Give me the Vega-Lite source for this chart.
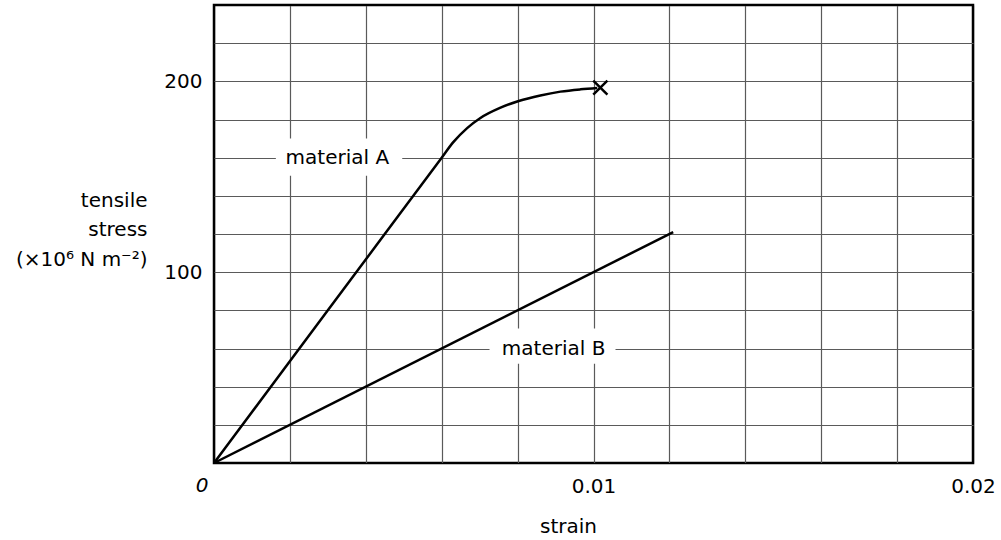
{
  "$schema": "https://vega.github.io/schema/vega-lite/v6.json",
  "width": 759,
  "height": 458,
  "autosize": "none",
  "padding": {"left": 214, "top": 5, "right": 28, "bottom": 77},
  "background": "white",
  "config": {
    "view": {"stroke": "black", "strokeWidth": 2.5},
    "font": "DejaVu Sans",
    "axis": {
      "labelFont": "DejaVu Sans",
      "titleFont": "DejaVu Sans",
      "labelFontSize": 20,
      "titleFontSize": 20,
      "labelColor": "black",
      "titleColor": "black",
      "titleFontWeight": "normal",
      "ticks": false,
      "domain": false,
      "gridWidth": 1.2,
      "gridOpacity": 1
    }
  },
  "datasets": {
    "curves": [
      {"material": "A", "order": 0, "strain": 0, "stress": 0},
      {"material": "A", "order": 1, "strain": 0.003, "stress": 80},
      {"material": "A", "order": 2, "strain": 0.006, "stress": 160},
      {"material": "A", "order": 3, "strain": 0.0063, "stress": 168},
      {"material": "A", "order": 4, "strain": 0.00667, "stress": 175.5},
      {"material": "A", "order": 5, "strain": 0.00702, "stress": 180.8},
      {"material": "A", "order": 6, "strain": 0.00755, "stress": 186.2},
      {"material": "A", "order": 7, "strain": 0.00803, "stress": 189.7},
      {"material": "A", "order": 8, "strain": 0.0086, "stress": 192.6},
      {"material": "A", "order": 9, "strain": 0.00913, "stress": 194.6},
      {"material": "A", "order": 10, "strain": 0.00966, "stress": 195.8},
      {"material": "A", "order": 11, "strain": 0.0101, "stress": 196.5},
      {"material": "B", "order": 0, "strain": 0, "stress": 0},
      {"material": "B", "order": 1, "strain": 0.0121, "stress": 121}
    ],
    "fracture": [
      {"strain": 0.01018, "stress": 196.7}
    ],
    "labels": [
      {"label": "material A", "x": 0.00325, "y": 160, "x1": 0.00163, "x2": 0.00496, "y1": 150.5, "y2": 170},
      {"label": "material B", "x": 0.00895, "y": 60, "x1": 0.00726, "x2": 0.01058, "y1": 52, "y2": 70.5}
    ],
    "origin": [
      {"strain": 0, "stress": 0, "t": "0"}
    ]
  },
  "layer": [
    {
      "data": {"name": "labels"},
      "mark": {"type": "rect", "fill": "white", "stroke": null},
      "encoding": {
        "x": {
          "field": "x1", "type": "quantitative",
          "scale": {"domain": [0, 0.02], "nice": false, "zero": false},
          "axis": {
            "values": [0, 0.002, 0.004, 0.006, 0.008, 0.01, 0.012, 0.014, 0.016, 0.018, 0.02],
            "tickCount": 30,
            "grid": true,
            "gridColor": {"condition": {"test": "datum.value < 0.0001 || datum.value > 0.0199", "value": "black"}, "value": "#5a5a5a"},
            "labelExpr": "abs(datum.value - 0.01) < 0.0001 ? '0.01' : abs(datum.value - 0.02) < 0.0001 ? '0.02' : ''",
            "labelOverlap": false,
            "labelFlush": false,
            "labelPadding": 13,
            "title": "strain",
            "titleX": 354,
            "titleY": 69,
            "titleBaseline": "alphabetic",
            "titleAnchor": null,
            "titleAlign": "center"
          }
        },
        "x2": {"field": "x2"},
        "y": {
          "field": "y1", "type": "quantitative",
          "scale": {"domain": [0, 240], "nice": false, "zero": false},
          "axis": {
            "values": [0, 20, 40, 60, 80, 100, 120, 140, 160, 180, 200, 220, 240],
            "tickCount": 30,
            "grid": true,
            "gridColor": {"condition": {"test": "datum.value < 1 || datum.value > 239", "value": "black"}, "value": "#5a5a5a"},
            "labelExpr": "datum.value == 100 ? '100' : datum.value == 200 ? '200' : ''",
            "labelOverlap": false,
            "labelFlush": false,
            "labelPadding": 12,
            "title": ["tensile", "stress", "(×10⁶ N m⁻²)"],
            "titleAngle": 0,
            "titleAlign": "right",
            "titleBaseline": "alphabetic",
            "titleAnchor": null,
            "titleX": -67,
            "titleY": 201,
            "titleLineHeight": 29.5
          }
        },
        "y2": {"field": "y2"}
      }
    },
    {
      "data": {"name": "labels"},
      "mark": {"type": "text", "fontSize": 20, "font": "DejaVu Sans", "color": "black", "align": "center", "baseline": "middle"},
      "encoding": {
        "x": {"field": "x", "type": "quantitative"},
        "y": {"field": "y", "type": "quantitative"},
        "text": {"field": "label"}
      }
    },
    {
      "data": {"name": "curves"},
      "mark": {"type": "line", "color": "black", "strokeWidth": 2.5, "interpolate": "monotone"},
      "encoding": {
        "x": {"field": "strain", "type": "quantitative"},
        "y": {"field": "stress", "type": "quantitative"},
        "detail": {"field": "material"},
        "order": {"field": "order"}
      }
    },
    {
      "data": {"name": "fracture"},
      "mark": {"type": "point", "shape": "M-1,-1L1,1M-1,1L1,-1", "size": 200, "filled": false, "stroke": "black", "strokeWidth": 2.5, "opacity": 1},
      "encoding": {
        "x": {"field": "strain", "type": "quantitative"},
        "y": {"field": "stress", "type": "quantitative"}
      }
    },
    {
      "data": {"name": "origin"},
      "mark": {"type": "text", "fontSize": 20, "font": "DejaVu Sans", "fontStyle": "italic", "color": "black", "align": "center", "baseline": "top", "dx": -12, "dy": 13},
      "encoding": {
        "x": {"field": "strain", "type": "quantitative"},
        "y": {"field": "stress", "type": "quantitative"},
        "text": {"field": "t"}
      }
    }
  ]
}
